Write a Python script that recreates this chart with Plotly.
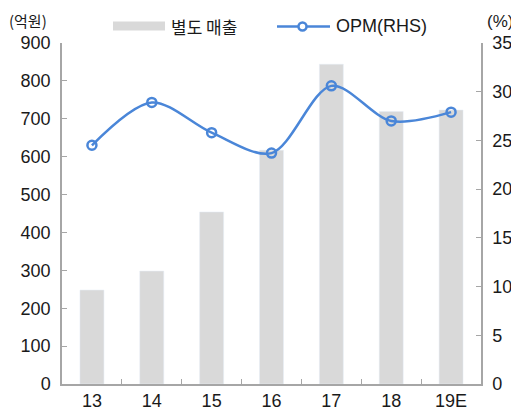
import plotly.graph_objects as go

categories = ["13", "14", "15", "16", "17", "18", "19E"]
sales = [248, 298, 454, 617, 844, 719, 723]
opm = [24.5, 28.9, 25.8, 23.7, 30.6, 27.0, 27.9]
left_ticks = [0, 100, 200, 300, 400, 500, 600, 700, 800, 900]
right_ticks = [0, 5, 10, 15, 20, 25, 30, 35]

BAR_C = "#d9d9d9"
LINE_C = "#4a86d8"
AXIS_C = "#a6a6a6"
TXT_C = "#1a1a1a"
FONT = "Liberation Sans, Noto Sans CJK KR"
KFONT = "Noto Sans CJK KR"

fig = go.Figure()
fig.add_trace(go.Bar(x=categories, y=sales, marker_color=BAR_C, width=0.4,
                     name="별도 매출", showlegend=False))
fig.add_trace(go.Scatter(x=categories, y=opm, yaxis="y2", mode="lines+markers",
                         line=dict(color=LINE_C, width=2.5, shape="spline", smoothing=0.9),
                         marker=dict(symbol="circle-open", size=9, color=LINE_C,
                                     line=dict(width=2.5, color=LINE_C)),
                         name="OPM(RHS)", showlegend=False))

# page has an 8px body margin; figure is offset by it
OFF = 8
W, H = 519 - OFF, 417 - OFF
PL, PR, PT, PB = 62, 481, 43, 384  # plot area in page pixels
L, T = PL - OFF, PT - OFF
R, B = W - (PR - OFF), H - (PB - OFF)
pw, ph = PR - PL, PB - PT

def px(x):
    return (x - PL) / pw

def py(y):
    return (PB - y) / ph

shapes = [
    dict(type="rect", xref="paper", yref="paper", x0=px(113), x1=px(165), y0=py(30.5), y1=py(21.5),
         fillcolor=BAR_C, line=dict(width=0)),
    dict(type="line", xref="paper", yref="paper", x0=px(277), x1=px(330), y0=py(26.5), y1=py(26.5),
         line=dict(color=LINE_C, width=2.5)),
    dict(type="circle", xref="paper", yref="paper", x0=px(298.5), x1=px(306.5), y0=py(30.5), y1=py(22.5),
         fillcolor="white", line=dict(color=LINE_C, width=2.5)),
]
annotations = [
    dict(text="별도 매출", xref="paper", yref="paper", x=px(169), y=py(26), xanchor="left", yanchor="middle",
         showarrow=False, font=dict(size=17, color=TXT_C, family=KFONT)),
    dict(text="OPM(RHS)", xref="paper", yref="paper", x=px(334), y=py(26), xanchor="left", yanchor="middle",
         showarrow=False, font=dict(size=18, color=TXT_C, family=FONT)),
    dict(text="(억원)", xref="paper", yref="paper", x=px(7), y=py(20), xanchor="left", yanchor="middle",
         showarrow=False, font=dict(size=15, color=TXT_C, family=KFONT)),
    dict(text="(%)", xref="paper", yref="paper", x=px(485), y=py(21), xanchor="left", yanchor="middle",
         showarrow=False, font=dict(size=17, color=TXT_C, family=FONT)),
]

fig.update_layout(
    width=W, height=H,
    margin=dict(l=L, r=R, t=T, b=B, pad=0, autoexpand=False),
    paper_bgcolor="white", plot_bgcolor="white",
    font=dict(family=FONT, size=18, color=TXT_C),
    bargap=0.6,
    xaxis=dict(type="category", showline=True, linecolor=AXIS_C, linewidth=1.5,
               ticks="inside", tickson="boundaries", ticklen=5, tickcolor=AXIS_C,
               showgrid=False, tickfont=dict(size=18), range=[-0.5, 6.5], automargin=False),
    yaxis=dict(range=[0, 900], tickvals=left_ticks, showline=True, linecolor=AXIS_C, linewidth=1.5,
               ticks="inside", ticklen=5, tickcolor=AXIS_C, showgrid=False, zeroline=False,
               tickfont=dict(size=18), ticklabelstandoff=6, automargin=False),
    yaxis2=dict(range=[0, 35], tickvals=right_ticks, overlaying="y", side="right", showline=True,
                linecolor=AXIS_C, linewidth=1.5, ticks="inside", ticklen=5, tickcolor=AXIS_C,
                showgrid=False, zeroline=False, tickfont=dict(size=18), ticklabelstandoff=6,
                automargin=False),
    shapes=shapes, annotations=annotations,
)

fig.write_html("out.html")
